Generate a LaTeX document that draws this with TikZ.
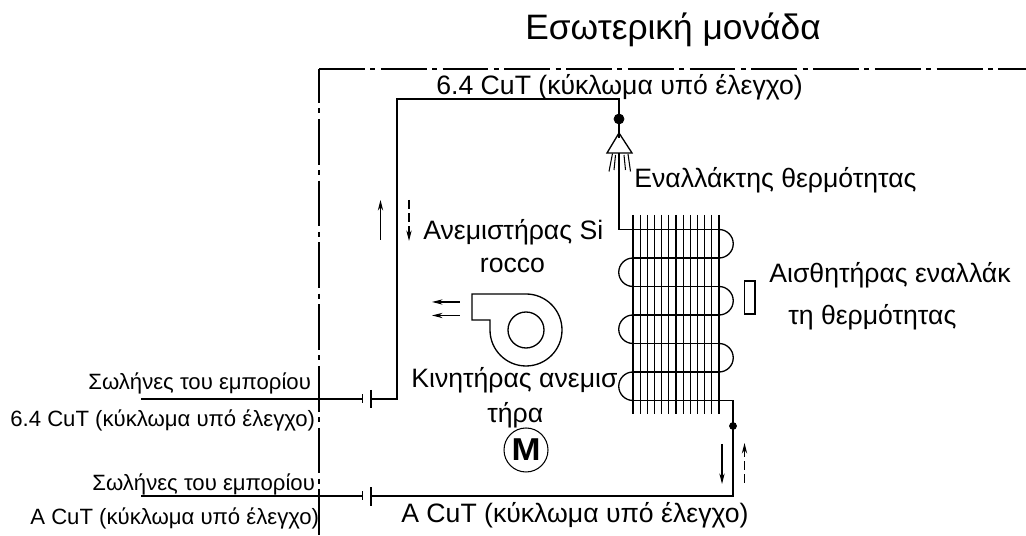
\documentclass[tikz,border=0pt]{standalone}
\usepackage{fontspec}
\setmainfont{Liberation Sans}
\usetikzlibrary{arrows.meta}
\tikzset{
    pipe/.style={draw=black,line width=0.75pt},
    thin pipe/.style={draw=black,line width=0.6pt},
    border/.style={draw=black,line width=0.75pt,dash pattern=on 26.08pt off 3.12pt on 2.83pt off 3.12pt},
    flow/.style={-{Stealth[length=6pt,width=3pt]},line width=0.6pt},
    flow back/.style={flow,dash pattern=on 5pt off 2.5pt},
    label/.style={inner sep=0pt,anchor=base west,font=\fontsize{15.15}{17}\selectfont},
    small label/.style={inner sep=0pt,anchor=base west,font=\fontsize{12.6}{14}\selectfont},
    title label/.style={inner sep=0pt,anchor=base west,font=\fontsize{20.1}{23}\selectfont}
}
\begin{document}
\begin{tikzpicture}
    \useasboundingbox (0,0) rectangle (20.52,10.72);

    % unit border
    \draw[border] (6.38,9.34) -- (20.52,9.34);
    \draw[border,dash phase=6.8pt] (6.38,9.34) -- (6.38,0);

    % texts
    \node[title label] (title) at (10.50,9.92) {Εσωτερική μονάδα};
    \node[label] (gasline) at (8.72,8.82) {6.4 CuT (κύκλωμα υπό έλεγχο)};
    \node[label] (hxlabel) at (12.68,6.96) {Εναλλάκτης θερμότητας};
    \node[label] (fanone) at (8.46,5.92) {Ανεμιστήρας Si};
    \node[label,anchor=base] (fantwo) at (10.25,5.26) {rocco};
    \node[label] (sensorone) at (15.38,5.06) {Αισθητήρας εναλλάκ};
    \node[label] (sensortwo) at (15.76,4.22) {τη θερμότητας};
    \node[label] (motorone) at (8.22,2.96) {Κινητήρας ανεμισ};
    \node[label] (motortwo) at (9.74,2.26) {τήρα};
    \node[label] (liquidline) at (8.02,0.26) {A CuT (κύκλωμα υπό έλεγχο)};
    \node[small label] (pipeone) at (1.76,2.92) {Σωλήνες του εμπορίου};
    \node[small label] (gasleft) at (0.20,2.18) {6.4 CuT (κύκλωμα υπό έλεγχο)};
    \node[small label] (pipetwo) at (1.84,0.90) {Σωλήνες του εμπορίου};
    \node[small label] (liquidleft) at (0.60,0.22) {A CuT (κύκλωμα υπό έλεγχο)};

    % refrigerant line
    \draw[pipe] (2.82,2.74) -- (7.25,2.74);
    \draw[pipe] (7.42,2.74) -- (7.94,2.74) -- (7.94,8.74) -- (12.38,8.74) -- (12.38,7.96);
    \draw[pipe] (2.82,0.80) -- (7.25,0.80);
    \draw[pipe] (7.42,0.80) -- (14.66,0.80) -- (14.66,2.71) -- (12.66,2.71);
    \foreach\y/\t/\b in {2.74/2.92/2.56, 0.80/0.97/0.60}{
        \draw[pipe] (7.25,\y+0.09) -- (7.25,\y-0.09);
        \draw[pipe] (7.42,\t) -- (7.42,\b);
    }

    % distributor
    \draw[fill=black] (12.38,8.34) circle (0.10);
    \draw[pipe] (12.38,8.06) -- (12.14,7.66) -- (12.64,7.66) -- cycle;
    \draw[pipe] (12.38,7.66) -- (12.38,6.13) -- (14.38,6.13);
    \draw[thin pipe] (12.25,7.65) -- (12.18,7.29);
    \draw[thin pipe] (12.31,7.62) -- (12.28,7.32);
    \draw[thin pipe] (12.48,7.62) -- (12.51,7.32);
    \draw[thin pipe] (12.56,7.64) -- (12.61,7.29);

    % heat exchanger
    \foreach\x in {0,1,...,12}{
        \draw[thin pipe] (12.66+\x*0.1433,6.42) -- (12.66+\x*0.1433,2.44);
    }
    \foreach\y in {5.56,4.99,4.42,3.85,3.28}{
        \draw[pipe] (12.66,\y) -- (14.38,\y);
    }
    \foreach\y in {5.56,4.42,3.28}{
        \draw[pipe] (14.38,\y) arc (-90:90:0.285);
        \draw[pipe] (12.66,\y) arc (90:270:0.285);
    }
    \draw[fill=black] (14.66,2.20) circle (0.07);
    \draw[thin pipe] (14.89,5.10) rectangle (15.10,4.44);

    % fan
    \draw[pipe] (9.44,4.84) -- (10.52,4.84) arc (90:-180:0.72) -- (9.80,4.32) -- (9.44,4.32) -- cycle;
    \draw[pipe] (10.52,4.12) circle (0.36);
    \draw[flow] (9.19,4.68) -- (8.64,4.68);
    \draw[flow] (9.19,4.41) -- (8.64,4.41);

    % flow arrows
    \draw[flow] (7.61,5.92) -- (7.61,6.72);
    \draw[flow back] (8.18,6.72) -- (8.18,5.90);
    \draw[flow] (14.44,1.84) -- (14.44,1.04);
    \draw[flow back] (14.89,1.06) -- (14.89,1.86);

    % motor
    \node[draw,circle,line width=0.6pt,minimum size=0.88cm,inner sep=0pt] (motor) at (10.52,1.72) {};
    \node[font=\bfseries\fontsize{18}{20}\selectfont,xscale=1.1,inner sep=0pt] (motorm) at (10.52,1.72) {M};
\end{tikzpicture}
\end{document}
